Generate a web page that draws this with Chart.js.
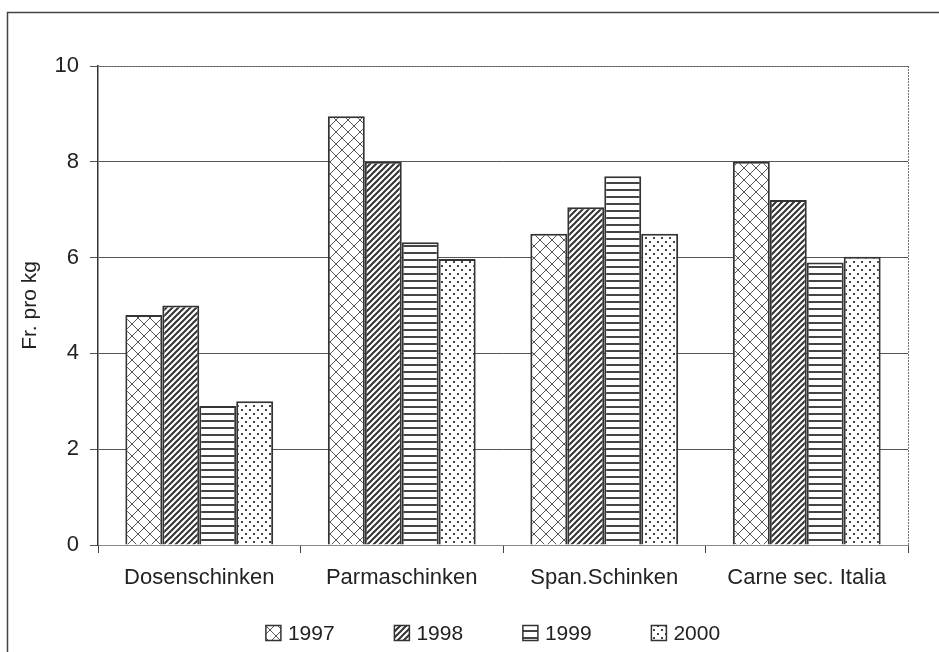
<!DOCTYPE html>
<html>
<head>
<meta charset="utf-8">
<script src="https://cdn.jsdelivr.net/npm/chart.js@4/dist/chart.umd.min.js"></script>
<style>
  html, body { margin: 0; padding: 0; background: #fff; }
  #wrap { width: 939px; height: 652px; position: relative; }
</style>
</head>
<body>
<div id="wrap"><canvas id="chart" width="939" height="652"></canvas></div>
<script>
const categories = ["Dosenschinken", "Parmaschinken", "Span.Schinken", "Carne sec. Italia"];
const years = ["1997", "1998", "1999", "2000"];
const values1997 = [4.8, 8.95, 6.5, 8.0];
const values1998 = [5.0, 8.0, 7.05, 7.2];
const values1999 = [2.9, 6.32, 7.7, 5.9];
const values2000 = [3.0, 5.97, 6.5, 6.02];
const yTicks = [0, 2, 4, 6, 8, 10];

const FONT = "'Liberation Sans', Arial, sans-serif";

// hatch patterns, like the old office print
function makePattern(w, h, draw) {
  const c = document.createElement("canvas");
  c.width = w;
  c.height = h;
  const g = c.getContext("2d");
  g.fillStyle = "#fff";
  g.fillRect(0, 0, w, h);
  draw(g);
  return g.createPattern(c, "repeat");
}

const ctx = document.getElementById("chart").getContext("2d");

const crossHatch = makePattern(12, 12, (g) => {
  g.strokeStyle = "#555";
  g.lineWidth = 1;
  g.beginPath();
  g.moveTo(0, 0); g.lineTo(12, 12);
  g.moveTo(12, 0); g.lineTo(0, 12);
  g.stroke();
});
const diagHatch = makePattern(6, 6, (g) => {
  g.strokeStyle = "#333";
  g.lineWidth = 2;
  g.beginPath();
  g.moveTo(-1, 7); g.lineTo(7, -1);
  g.moveTo(-4, 4); g.lineTo(4, -4);
  g.moveTo(2, 10); g.lineTo(10, 2);
  g.stroke();
});
const horizHatch = makePattern(8, 7, (g) => {
  g.fillStyle = "#444";
  g.fillRect(0, 0, 8, 2);
});
const dotHatch = makePattern(8, 8, (g) => {
  g.fillStyle = "#444";
  g.fillRect(1, 1, 2, 2);
  g.fillRect(5, 5, 2, 2);
});

const series = [values1997, values1998, values1999, values2000];
const fills = [crossHatch, diagHatch, horizHatch, dotHatch];

const datasets = years.map((y, i) => ({
  label: y,
  data: series[i],
  backgroundColor: fills[i],
  borderColor: "#333",
  borderWidth: 2,
  categoryPercentage: 0.73,
  barPercentage: 1.0,
}));

// outer frame, dotted top/right plot edge, and the legend row
const framePlugin = {
  id: "frame",
  beforeDraw(chart) {
    const c = chart.ctx;
    c.save();
    c.fillStyle = "#fff";
    c.fillRect(0, 0, chart.width, chart.height);
    c.strokeStyle = "#444";
    c.lineWidth = 1.5;
    c.beginPath();
    c.moveTo(7.5, chart.height); c.lineTo(7.5, 12.5); c.lineTo(chart.width, 12.5);
    c.stroke();
    c.restore();
  },
  afterDatasetsDraw(chart) {
    const a = chart.chartArea;
    const c = chart.ctx;
    c.save();
    c.strokeStyle = "#777";
    c.lineWidth = 1;
    c.setLineDash([2, 1]);
    c.beginPath();
    c.moveTo(a.left, a.top + 0.5); c.lineTo(a.right, a.top + 0.5);
    c.moveTo(a.right + 0.5, a.top); c.lineTo(a.right + 0.5, a.bottom);
    c.stroke();
    c.restore();
  },
  afterDraw(chart) {
    const c = chart.ctx;
    const box = 15, gap = 7, step = 128.5;
    const y = 633;
    c.save();
    c.font = "21px " + FONT;
    c.textBaseline = "middle";
    c.fillStyle = "#222";
    const sets = chart.data.datasets;
    const lastW = c.measureText(sets[sets.length - 1].label).width;
    const total = step * (sets.length - 1) + box + gap + lastW;
    let x = (chart.chartArea.left + chart.chartArea.right) / 2 - total / 2 - 10;
    sets.forEach((ds) => {
      c.fillStyle = ds.backgroundColor;
      c.fillRect(x, y - box / 2, box, box);
      c.strokeStyle = "#333";
      c.lineWidth = 1.5;
      c.strokeRect(x, y - box / 2, box, box);
      c.fillStyle = "#222";
      c.fillText(ds.label, x + box + gap, y + 1);
      x += step;
    });
    c.restore();
  },
};

new Chart(ctx, {
  type: "bar",
  data: { labels: categories, datasets: datasets },
  plugins: [framePlugin],
  options: {
    responsive: false,
    animation: false,
    layout: { padding: { left: 10, top: 66, right: 31, bottom: 0 } },
    plugins: {
      legend: { display: false },
      tooltip: { enabled: false },
    },
    scales: {
      x: {
        afterFit: (scale) => { scale.height = 107; },
        grid: { offset: true, drawOnChartArea: false, color: "#444", tickLength: 8 },
        border: { color: "#888", width: 1, dash: [2, 1] },
        ticks: {
          color: "#222",
          padding: 12,
          font: { family: FONT, size: 22 },
        },
      },
      y: {
        min: 0,
        max: 10,
        afterBuildTicks: (scale) => { scale.ticks = yTicks.map((v) => ({ value: v })); },
        afterFit: (scale) => { scale.width = 88; },
        grid: { color: "#555", lineWidth: 1, tickLength: 8 },
        border: { color: "#333", width: 1.5 },
        ticks: {
          color: "#222",
          padding: 11,
          font: { family: FONT, size: 22 },
        },
        title: {
          display: true,
          text: "Fr. pro kg",
          color: "#222",
          padding: { top: 8, bottom: 0 },
          font: { family: FONT, size: 21 },
        },
      },
    },
  },
});
</script>
</body>
</html>
